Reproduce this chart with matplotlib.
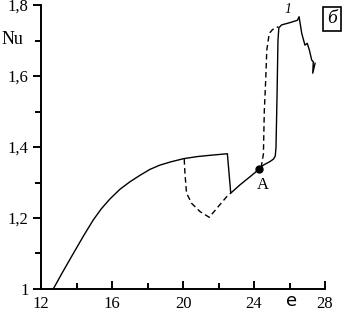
import matplotlib
matplotlib.use("Agg")
import matplotlib.pyplot as plt
import numpy as np

plt.rcParams['font.family'] = ['Liberation Serif', 'DejaVu Serif']

# Solid curve
solid_x = [12.69, 13.2, 13.82, 14.4, 14.95, 15.4, 15.89, 16.45, 17.01, 17.6,
           18.14, 18.7, 19.3, 20.02, 20.8, 21.6, 22.5, 22.69, 23.2, 23.77,
           24.30, 24.53, 24.90, 25.10, 25.20, 25.24, 25.30, 25.35, 25.40,
           25.56, 26.0, 26.45, 26.54, 26.69, 26.87, 27.0, 27.12, 27.25, 27.34,
           27.31, 27.44]
solid_y = [1.0, 1.046, 1.100, 1.150, 1.195, 1.226, 1.254, 1.281, 1.302, 1.321,
           1.337, 1.349, 1.358, 1.367, 1.373, 1.377, 1.381, 1.27, 1.293, 1.316,
           1.338, 1.349, 1.359, 1.366, 1.375, 1.40, 1.55, 1.70, 1.736,
           1.744, 1.750, 1.757, 1.767, 1.720, 1.687, 1.692, 1.673, 1.645, 1.640,
           1.608, 1.636]

# Dashed branch: the dip, then the early jump from point A
dip_x = [20.07, 20.09, 20.11, 20.2, 20.49, 20.96, 21.48, 21.9, 22.46, 22.69]
dip_y = [1.366, 1.345, 1.326, 1.27, 1.241, 1.218, 1.202, 1.227, 1.26, 1.27]
jump_x = [24.40, 24.53, 24.58, 24.66, 24.72, 24.86, 25.05, 25.37]
jump_y = [1.342, 1.38, 1.50, 1.59, 1.673, 1.720, 1.731, 1.739]

point_a = (24.30, 1.338)

x_ticks = [12, 16, 20, 24, 28]
y_ticks = [1.0, 1.2, 1.4, 1.6, 1.8]
y_labels = ['1', '1,2', '1,4', '1,6', '1,8']

fig = plt.figure(figsize=(3.47, 3.15), dpi=100)
ax = fig.add_axes([41 / 347, 26 / 315, 284 / 347, 284 / 315])

ax.plot(solid_x, solid_y, color='black', lw=1.0)
ax.plot(dip_x, dip_y, color='black', lw=1.0, linestyle=(0, (4, 2.5)))
ax.plot(jump_x, jump_y, color='black', lw=1.0, linestyle=(0, (4, 2.5)))
ax.plot(*point_a, 'o', color='black', markersize=5)

ax.set_xlim(12, 28)
ax.set_ylim(1.0, 1.8)

for s in ['top', 'right']:
    ax.spines[s].set_visible(False)
for s in ['left', 'bottom']:
    ax.spines[s].set_linewidth(1.4)

ax.set_xticks(x_ticks)
ax.set_xticks([14, 18, 22, 26], minor=True)
ax.set_yticks(y_ticks)
ax.set_yticklabels(y_labels)
ax.set_yticks([1.1, 1.3, 1.5, 1.7], minor=True)

ax.tick_params(axis='x', which='major', direction='in', length=6, width=1.4,
               labelsize=12, pad=5)
ax.tick_params(axis='x', which='minor', direction='in', length=4, width=1.4)
ax.tick_params(axis='y', which='major', direction='out', length=6, width=1.4,
               labelsize=12, pad=3)
ax.tick_params(axis='y', which='minor', direction='out', length=4, width=1.4)

ax.text(-0.1, 0.88, 'Nu', transform=ax.transAxes, fontsize=13,
        ha='center', va='center')
ax.text(26.1, 0.965, 'e', fontsize=13, ha='center', va='center',
        clip_on=False, family='DejaVu Sans')
ax.text(25.92, 1.786, '1', fontsize=10, style='italic', ha='center', va='center')
ax.text(24.5, 1.293, 'A', fontsize=12, ha='center', va='center')

ax.text(1.025, 0.951, 'б', transform=ax.transAxes, fontsize=14,
        style='italic', ha='center', va='center',
        bbox=dict(boxstyle='square,pad=0.2', fc='white', ec='black', lw=1.2))

fig.savefig('out.png', dpi=100)
